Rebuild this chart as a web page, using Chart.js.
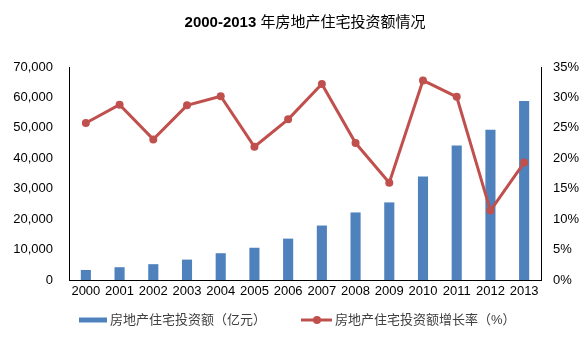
<!DOCTYPE html>
<html>
<head>
<meta charset="utf-8">
<script src="https://cdn.jsdelivr.net/npm/chart.js@4/dist/chart.umd.min.js"></script>
<style>
  html, body { margin: 0; padding: 0; background: #fff; }
  #wrap { width: 587px; height: 338px; }
</style>
</head>
<body>
<div id="wrap"><canvas id="myChart"></canvas></div>
<script>
var years = ["2000","2001","2002","2003","2004","2005","2006","2007","2008","2009","2010","2011","2012","2013"];
var investValues = [3300, 4200, 5200, 6700, 8800, 10600, 13600, 17900, 22200, 25500, 34000, 44200, 49400, 58800];
var growthValues = [25.8, 28.8, 23.1, 28.7, 30.2, 21.9, 26.4, 32.2, 22.5, 16.0, 32.8, 30.1, 11.4, 19.3];
var titleNum = "2000-2013 ";
var titleText = "年房地产住宅投资额情况";
var barLabel = "房地产住宅投资额（亿元）";
var lineLabel = "房地产住宅投资额增长率（%）";

var barColor = "#4F81BD";
var lineColor = "#C0504D";
var fontFamily = "'Liberation Sans', Arial, 'Noto Sans CJK SC', sans-serif";
var cjkFamily = "'Liberation Sans', 'Noto Sans CJK SC', sans-serif";

// title + legend drawn by hand so they sit where the original has them
var extras = {
  id: "extras",
  afterDraw: function(chart) {
    var ctx = chart.ctx;
    var area = chart.chartArea;
    ctx.save();
    // title
    ctx.textBaseline = "middle";
    ctx.fillStyle = "#000";
    ctx.font = "bold 15px " + fontFamily;
    var w1 = ctx.measureText(titleNum).width;
    ctx.font = "15px " + cjkFamily;
    var w2 = ctx.measureText(titleText).width;
    var tx = (area.left + area.right) / 2 - (w1 + w2) / 2;
    ctx.font = "bold 15px " + fontFamily;
    ctx.textAlign = "left";
    ctx.fillText(titleNum, tx, 22.5);
    ctx.font = "15px " + cjkFamily;
    ctx.fillText(titleText, tx + w1, 22.5);

    // legend
    var ly = 320;
    ctx.font = "13px " + cjkFamily;
    ctx.fillStyle = barColor;
    ctx.fillRect(79, ly - 2.5, 28, 5);
    ctx.fillStyle = "#404040";
    ctx.fillText(barLabel, 110, ly);

    ctx.strokeStyle = lineColor;
    ctx.lineWidth = 3;
    ctx.beginPath();
    ctx.moveTo(301, ly);
    ctx.lineTo(332, ly);
    ctx.stroke();
    ctx.fillStyle = lineColor;
    ctx.beginPath();
    ctx.arc(317, ly, 4, 0, Math.PI * 2);
    ctx.fill();
    ctx.fillStyle = "#404040";
    ctx.fillText(lineLabel, 335, ly);
    ctx.restore();
  }
};

new Chart("myChart", {
  type: "bar",
  data: {
    labels: years,
    datasets: [{
      type: "line",
      label: lineLabel,
      data: growthValues,
      yAxisID: "y1",
      borderColor: lineColor,
      backgroundColor: lineColor,
      borderWidth: 3,
      pointRadius: 4,
      pointBackgroundColor: lineColor,
      pointBorderWidth: 0,
      tension: 0,
      order: 0
    }, {
      label: barLabel,
      data: investValues,
      yAxisID: "y",
      backgroundColor: barColor,
      barPercentage: 0.3,
      categoryPercentage: 1,
      order: 1
    }]
  },
  options: {
    responsive: true,
    maintainAspectRatio: false,
    animation: false,
    layout: {
      padding: { left: 0, right: 0, top: 67, bottom: 0 }
    },
    scales: {
      x: {
        offset: true,
        grid: { display: false, drawTicks: false },
        border: { display: true, color: "#000", width: 1 },
        ticks: { color: "#000", font: { size: 13, family: fontFamily }, padding: 4, maxRotation: 0, autoSkip: false },
        afterFit: function(scale) { scale.height = 58; }
      },
      y: {
        position: "left",
        min: 0,
        max: 70000,
        grid: { display: false, drawTicks: false },
        border: { display: true, color: "#000", width: 1 },
        ticks: {
          stepSize: 10000,
          color: "#000",
          padding: 16,
          font: { size: 13, family: fontFamily },
          callback: function(v) { return v.toLocaleString("en-US"); }
        },
        afterFit: function(scale) { scale.width = 69; }
      },
      y1: {
        position: "right",
        min: 0,
        max: 35,
        grid: { display: false, drawTicks: false },
        border: { display: true, color: "#000", width: 1 },
        ticks: {
          stepSize: 5,
          color: "#000",
          padding: 12,
          font: { size: 13, family: fontFamily },
          callback: function(v) { return v + "%"; }
        },
        afterFit: function(scale) { scale.width = 46; }
      }
    },
    plugins: {
      legend: { display: false },
      title: { display: false },
      tooltip: { enabled: false }
    }
  },
  plugins: [extras]
});
</script>
</body>
</html>
